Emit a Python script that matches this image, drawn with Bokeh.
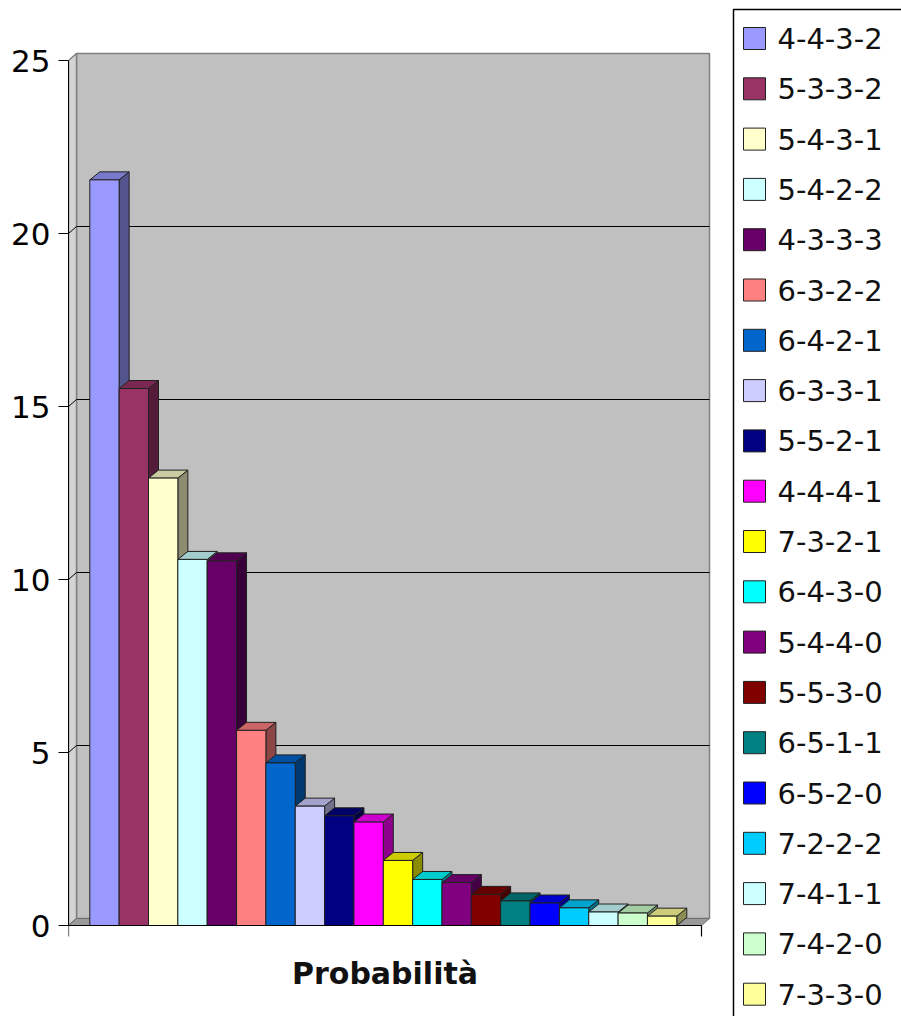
from bokeh.plotting import figure
from bokeh.models import Range1d, FixedTicker, ColumnDataSource
from bokeh.core.properties import value
from bokeh.embed import file_html
from bokeh.resources import INLINE

# ---------------- data ----------------
categories = ["4-4-3-2", "5-3-3-2", "5-4-3-1", "5-4-2-2", "4-3-3-3",
              "6-3-2-2", "6-4-2-1", "6-3-3-1", "5-5-2-1", "4-4-4-1",
              "7-3-2-1", "6-4-3-0", "5-4-4-0", "5-5-3-0", "6-5-1-1",
              "6-5-2-0", "7-2-2-2", "7-4-1-1", "7-4-2-0", "7-3-3-0"]
probabilities = [21.55, 15.52, 12.93, 10.58, 10.54,
                 5.64, 4.70, 3.45, 3.17, 2.99,
                 1.88, 1.33, 1.24, 0.90, 0.71,
                 0.65, 0.51, 0.39, 0.36, 0.27]
colors = ["#9999FF", "#993366", "#FFFFCC", "#CCFFFF", "#660066",
          "#FF8080", "#0066CC", "#CCCCFF", "#000080", "#FF00FF",
          "#FFFF00", "#00FFFF", "#800080", "#800000", "#008080",
          "#0000FF", "#00CCFF", "#CCFFFF", "#CCFFCC", "#FFFF99"]
y_ticks = [0, 5, 10, 15, 20, 25]
x_title = "Probabilità"
y_max = 25

# ---------------- layout constants (pixels) ----------------
W, H = 901, 1016
LEFT = 68                 # left axis panel width
PAGE = 0                  # page offset of the canvas
PXX = 29.35               # px per category slot
PXY = 34.6                # px per value unit
BAR0 = 89.3 - PAGE        # canvas x of first bar left edge
ZERO = 925 - PAGE         # canvas y of value 0

x_start = (LEFT - BAR0) / PXX
x_end = x_start + (W - LEFT) / PXX
y_end = ZERO / PXY
y_start = y_end - H / PXY


def cx(page_x):
    return x_start + (page_x - PAGE - LEFT) / PXX


def cy(page_y):
    return y_end - (page_y - PAGE) / PXY


WDX, WDY = 8 / PXX, 7 / PXY      # wall depth
BDX, BDY = 10 / PXX, 8 / PXY     # bar depth
AX_LO = x_start
AX_HI = cx(701)


def shade(hexcol, f):
    r, g, b = int(hexcol[1:3], 16), int(hexcol[3:5], 16), int(hexcol[5:7], 16)
    return "#%02x%02x%02x" % (int(r * f), int(g * f), int(b * f))


p = figure(width=W, height=H, output_backend="svg", toolbar_location=None,
           x_range=Range1d(x_start, x_end), y_range=Range1d(y_start, y_end),
           x_axis_location=None, min_border_left=LEFT, min_border_right=0,
           min_border_top=0, min_border_bottom=0)
p.outline_line_color = None
p.background_fill_color = "white"
p.border_fill_color = "white"
p.xgrid.visible = False
p.ygrid.visible = False

ax = p.yaxis[0]
ax.ticker = FixedTicker(ticks=y_ticks)
ax.bounds = (0, y_max)
ax.major_label_text_font = "DejaVu Sans"
ax.major_label_text_font_size = "31px"
ax.major_label_text_color = "black"
ax.major_label_standoff = 8
ax.major_tick_out = 10
ax.major_tick_in = 0
ax.minor_tick_out = 0
ax.minor_tick_in = 0
ax.axis_line_color = "black"
ax.major_tick_line_color = "black"

# walls and floor
p.quad(left=[AX_LO + WDX], right=[AX_HI + WDX], bottom=[WDY], top=[y_max + WDY],
       fill_color="#C0C0C0", line_color="#808080", line_width=1.5)
p.patch([AX_LO, AX_LO, AX_LO + WDX, AX_LO + WDX], [0, y_max, y_max + WDY, WDY],
        fill_color="#D4D4D4", line_color="#808080", line_width=1.5)
p.patch([AX_LO, AX_HI, AX_HI + WDX, AX_LO + WDX], [0, 0, WDY, WDY],
        fill_color="#9A9A9A", line_color="#707070", line_width=1)

# gridlines on left wall and back wall
grid = [t for t in y_ticks if 0 < t < y_max]
p.segment(x0=[AX_LO] * len(grid), y0=grid, x1=[AX_LO + WDX] * len(grid),
          y1=[t + WDY for t in grid], line_color="black", line_width=1)
p.segment(x0=[AX_LO + WDX] * len(grid), y0=[t + WDY for t in grid],
          x1=[AX_HI + WDX] * len(grid), y1=[t + WDY for t in grid],
          line_color="black", line_width=1)

# bars
n = len(categories)
lefts = list(range(n))
rights = [i + 1 for i in lefts]
side_xs = [[r, r, r + BDX, r + BDX] for r in rights]
side_ys = [[0, v, v + BDY, BDY] for v in probabilities]
top_xs = [[l, r, r + BDX, l + BDX] for l, r in zip(lefts, rights)]
top_ys = [[v, v, v + BDY, v + BDY] for v in probabilities]
side_cols = [shade(c, 0.55) for c in colors]
top_cols = [shade(c, 0.8) for c in colors]

p.patches(xs=side_xs, ys=side_ys, fill_color=side_cols, line_color="#202020", line_width=1)
p.patches(xs=top_xs, ys=top_ys, fill_color=top_cols, line_color="#202020", line_width=1)
src = ColumnDataSource(dict(left=lefts, right=rights, top=probabilities,
                            bottom=[0] * n, color=colors, cat=categories))
p.quad(left="left", right="right", top="top", bottom="bottom", source=src,
       fill_color="color", line_color="#202020", line_width=1)

# category axis line with end ticks
tick_len = 11 / PXY
p.segment(x0=[AX_LO], y0=[0], x1=[AX_HI], y1=[0], line_color="black", line_width=1.2)
p.segment(x0=[AX_LO, AX_HI], y0=[0, 0], x1=[AX_LO, AX_HI], y1=[-tick_len, -tick_len],
          line_color="black", line_width=1.2)

# axis title
p.text(x=[(AX_LO + AX_HI) / 2], y=[cy(972.7)], text=[x_title],
       text_font=value("DejaVu Sans"), text_font_style="bold",
       text_font_size="30px", text_align="center", text_baseline="alphabetic",
       text_color="#111111")

# legend (manual)
p.quad(left=[cx(733)], right=[x_end + 1], top=[cy(9)], bottom=[y_start - 1],
       fill_color="white", line_color="black", line_width=1.5)
pitch = 50.3 / PXY
ly = [cy(38.0) - i * pitch for i in range(n)]
p.rect(x=[cx(754)] * n, y=ly, width=22, height=22, width_units="screen",
       height_units="screen", fill_color=colors, line_color="#202020", line_width=1)
p.text(x=[cx(777)] * n, y=ly, text=categories, text_font=value("DejaVu Sans"),
       text_font_size="29px", text_align="left", text_baseline="middle",
       text_color="#111111")

open("out.html", "w").write(file_html(p, INLINE))
